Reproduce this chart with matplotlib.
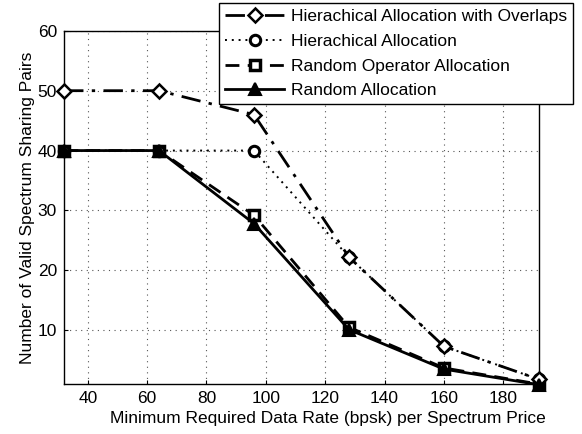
import matplotlib
matplotlib.use("Agg")
import matplotlib.pyplot as plt

plt.rcParams['font.family'] = ['Liberation Sans', 'DejaVu Sans']

x = [32, 64, 96, 128, 160, 192]
overlaps = [50, 50, 46, 22.2, 7.3, 1.8]
hierarchical = [40, 40, 40, 22.2, 7.3, 1.8]
rand_operator = [40, 40, 29.2, 10.5, 3.7, 1.0]
rand_alloc = [40, 40, 27.8, 10.1, 3.5, 0.9]

labels = ["Hierachical Allocation with Overlaps", "Hierachical Allocation",
          "Random Operator Allocation", "Random Allocation"]
xticks = [40, 60, 80, 100, 120, 140, 160, 180]
yticks = [10, 20, 30, 40, 50, 60]

FS = 12.5

fig = plt.figure(figsize=(5.82, 4.34), dpi=100)
ax = fig.add_axes([0.110, 0.115, 0.816, 0.814])

ax.plot(x, overlaps, color='black', lw=2, linestyle=(0, (7, 3, 1.2, 3)),
        marker='D', markersize=7, markerfacecolor='white', markeredgewidth=1.8,
        label=labels[0], clip_on=False, zorder=5)
ax.plot(x, hierarchical, color='black', lw=1.4, linestyle=(0, (1, 2.5)),
        marker='o', markersize=7.5, markerfacecolor='white', markeredgewidth=2.2,
        label=labels[1], clip_on=False, zorder=4)
ax.plot(x, rand_operator, color='black', lw=2, linestyle=(0, (5, 3)),
        marker='s', markersize=7.5, markerfacecolor='white', markeredgewidth=2.5,
        label=labels[2], clip_on=False, zorder=3)
ax.plot(x, rand_alloc, color='black', lw=2, linestyle='-',
        marker='^', markersize=9, markerfacecolor='black', markeredgewidth=1.5,
        label=labels[3], clip_on=False, zorder=6)

ax.set_xlim(32, 192)
ax.set_ylim(1, 60)
ax.set_xticks(xticks)
ax.set_yticks(yticks)
ax.tick_params(direction='in', labelsize=FS, length=3, top=False, right=False, pad=5)
ax.grid(True, color='#555555', linestyle=(0, (1, 4)), linewidth=0.8)
for s in ax.spines.values():
    s.set_linewidth(1.0)

ax.set_xlabel("Minimum Required Data Rate (bpsk) per Spectrum Price", fontsize=FS, labelpad=2)
ax.xaxis.set_label_coords(0.556, -0.075)
ax.set_ylabel("Number of Valid Spectrum Sharing Pairs", fontsize=FS, labelpad=2)

leg = fig.legend(loc='upper right', bbox_to_anchor=(0.985, 0.993), fontsize=FS,
                 frameon=True, fancybox=False, edgecolor='black', framealpha=1,
                 handlelength=3.4, borderpad=0.35, labelspacing=0.55, handletextpad=0.4,
                 borderaxespad=0)
leg.get_frame().set_linewidth(1.0)

fig.savefig("out.png", dpi=100)
